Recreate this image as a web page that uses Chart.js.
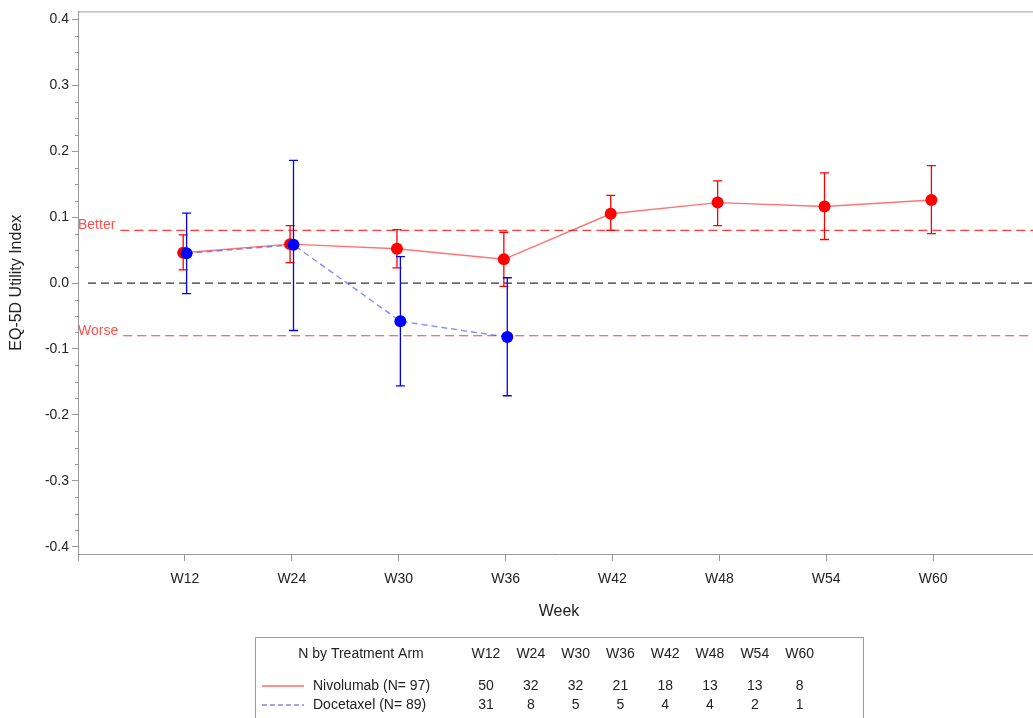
<!DOCTYPE html>
<html>
<head>
<meta charset="utf-8">
<script src="https://cdn.jsdelivr.net/npm/chart.js@4"></script>
<style>
    html, body { margin: 0; padding: 0; background: #fff; overflow: hidden; }
    #wrap { width: 1033px; height: 718px; overflow: hidden; }
    canvas { display: block; }
</style>
</head>
<body>
<div id="wrap"><canvas id="chart" width="1046" height="718"></canvas></div>
<script>
// Data
const weeks = ['W12', 'W24', 'W30', 'W36', 'W42', 'W48', 'W54', 'W60'];
const nivoMean = [0.046, 0.059, 0.052, 0.036, 0.105, 0.122, 0.116, 0.126];
const nivoUpper = [0.073, 0.087, 0.081, 0.077, 0.133, 0.155, 0.167, 0.178];
const nivoLower = [0.020, 0.031, 0.023, -0.005, 0.080, 0.087, 0.066, 0.075];
const doceMean = [0.045, 0.058, -0.058, -0.082];
const doceUpper = [0.106, 0.186, 0.040, 0.008];
const doceLower = [-0.016, -0.072, -0.156, -0.171];
const nivoN = [50, 32, 32, 21, 18, 13, 13, 8];
const doceN = [31, 8, 5, 5, 4, 4, 2, 1];
const armNames = ['Nivolumab (N= 97)', 'Docetaxel (N= 89)'];
const yTicks = [-0.4, -0.3, -0.2, -0.1, 0, 0.1, 0.2, 0.3, 0.4];
const refValues = [0.08, -0.08];
const refLabels = ['Better', 'Worse'];

const FONT = "'Liberation Sans', Arial, sans-serif";
const AXIS_GRAY = '#9a9a9a';
const TEXT = '#222';
const RED = '#ff0000';
const BLUE = '#0000ff';
const shift = 0.016; // small cluster offset between arms

function toPoints(values, dx) {
    return values.map((v, i) => ({ x: i + 1 + dx, y: v }));
}

// Reference lines (zero, Better, Worse)
const refLinesPlugin = {
    id: 'refLines',
    beforeDatasetsDraw(chart) {
        const { ctx, chartArea, scales: { y } } = chart;
        ctx.save();
        // zero line
        const y0 = y.getPixelForValue(0);
        ctx.strokeStyle = '#333';
        ctx.lineWidth = 1.2;
        ctx.setLineDash([8, 5]);
        ctx.beginPath();
        ctx.moveTo(chartArea.left + 10, y0);
        ctx.lineTo(chartArea.right, y0);
        ctx.stroke();

        ctx.font = '14px ' + FONT;
        ctx.textBaseline = 'middle';
        ctx.textAlign = 'left';
        refValues.forEach((v, i) => {
            const py = y.getPixelForValue(v);
            ctx.fillStyle = '#ff5050';
            ctx.fillText(refLabels[i], chartArea.left, py - 5);
            const w = ctx.measureText(refLabels[i]).width;
            ctx.strokeStyle = '#ff3b3b';
            ctx.setLineDash([9, 5]);
            ctx.beginPath();
            ctx.moveTo(chartArea.left + w + 5, py);
            ctx.lineTo(chartArea.right, py);
            ctx.stroke();
        });
        ctx.restore();
    }
};

// Error bars
const errorBarsPlugin = {
    id: 'errorBars',
    beforeDatasetsDraw(chart) {
        const { ctx, scales: { x, y } } = chart;
        const series = [
            { lo: nivoLower, hi: nivoUpper, dx: -shift, color: RED },
            { lo: doceLower, hi: doceUpper, dx: shift, color: BLUE }
        ];
        ctx.save();
        ctx.lineWidth = 1.3;
        series.forEach(s => {
            ctx.strokeStyle = s.color;
            s.lo.forEach((lo, i) => {
                const px = x.getPixelForValue(i + 1 + s.dx);
                const pLo = y.getPixelForValue(lo);
                const pHi = y.getPixelForValue(s.hi[i]);
                ctx.beginPath();
                ctx.moveTo(px, pLo);
                ctx.lineTo(px, pHi);
                ctx.moveTo(px - 4.5, pLo);
                ctx.lineTo(px + 4.5, pLo);
                ctx.moveTo(px - 4.5, pHi);
                ctx.lineTo(px + 4.5, pHi);
                ctx.stroke();
            });
        });
        ctx.restore();
    }
};

// Frame top line, minor ticks and the N table
const extrasPlugin = {
    id: 'extras',
    afterDraw(chart) {
        const { ctx, chartArea, scales: { y } } = chart;
        ctx.save();
        ctx.strokeStyle = AXIS_GRAY;
        ctx.lineWidth = 1;
        ctx.beginPath();
        ctx.moveTo(chartArea.left, chartArea.top + 0.5);
        ctx.lineTo(chartArea.right, chartArea.top + 0.5);
        // minor ticks
        for (let k = -16; k <= 16; k++) {
            if (k % 4 === 0) continue;
            const py = Math.round(y.getPixelForValue(k * 0.025)) + 0.5;
            ctx.moveTo(chartArea.left - 3, py);
            ctx.lineTo(chartArea.left, py);
        }
        ctx.stroke();

        // N by treatment arm table
        ctx.strokeRect(255.5, 637.5, 608, 120);
        ctx.fillStyle = TEXT;
        ctx.font = '14px ' + FONT;
        ctx.textBaseline = 'middle';
        ctx.textAlign = 'center';
        ctx.fillText('N by Treatment Arm', 361, 654);
        const colX = weeks.map((w, i) => 486 + i * 44.8);
        weeks.forEach((w, i) => ctx.fillText(w, colX[i], 654));
        nivoN.forEach((n, i) => ctx.fillText(String(n), colX[i], 686));
        doceN.forEach((n, i) => ctx.fillText(String(n), colX[i], 705));
        ctx.textAlign = 'left';
        ctx.fillText(armNames[0], 313, 686);
        ctx.fillText(armNames[1], 313, 705);

        ctx.lineWidth = 1.2;
        ctx.strokeStyle = '#ff2020';
        ctx.beginPath();
        ctx.moveTo(262, 686);
        ctx.lineTo(304, 686);
        ctx.stroke();
        ctx.strokeStyle = '#4040ff';
        ctx.setLineDash([5, 3]);
        ctx.beginPath();
        ctx.moveTo(262, 705);
        ctx.lineTo(304, 705);
        ctx.stroke();
        ctx.restore();
    }
};

const ctx = document.getElementById('chart');
new Chart(ctx, {
    type: 'line',
    data: {
        datasets: [
            {
                label: armNames[0],
                data: toPoints(nivoMean, -shift),
                borderColor: 'rgba(255, 0, 0, 0.55)',
                borderWidth: 1.4,
                pointRadius: 6,
                pointBorderWidth: 0,
                pointBackgroundColor: RED,
                tension: 0,
                order: 2
            },
            {
                label: armNames[1],
                data: toPoints(doceMean, shift),
                borderColor: 'rgba(70, 70, 255, 0.65)',
                borderWidth: 1.4,
                borderDash: [6, 4],
                pointRadius: 6,
                pointBorderWidth: 0,
                pointBackgroundColor: BLUE,
                tension: 0,
                order: 1
            }
        ]
    },
    options: {
        responsive: false,
        animation: false,
        devicePixelRatio: 1,
        layout: { padding: { top: 10, left: 0, right: 0, bottom: 0 } },
        plugins: {
            legend: { display: false },
            tooltip: { enabled: false }
        },
        scales: {
            x: {
                type: 'linear',
                min: 0,
                max: 9,
                afterBuildTicks: scale => {
                    scale.ticks = [0].concat(weeks.map((w, i) => i + 1)).map(v => ({ value: v }));
                },
                afterFit: scale => { scale.height = 164; },
                ticks: {
                    autoSkip: false,
                    maxRotation: 0,
                    padding: 10,
                    color: TEXT,
                    font: { family: FONT, size: 14 },
                    callback: v => (v >= 1 && v <= weeks.length ? weeks[v - 1] : '')
                },
                grid: { drawOnChartArea: false, drawTicks: true, tickLength: 7, color: AXIS_GRAY },
                border: { display: true, color: AXIS_GRAY },
                title: {
                    display: true,
                    text: 'Week',
                    color: TEXT,
                    font: { family: FONT, size: 16 },
                    padding: { top: 0, bottom: 97 }
                }
            },
            y: {
                min: -0.411,
                max: 0.412,
                afterBuildTicks: scale => {
                    scale.ticks = yTicks.map(v => ({ value: v }));
                },
                afterFit: scale => { scale.width = 78; },
                ticks: {
                    padding: 3,
                    color: TEXT,
                    font: { family: FONT, size: 14 },
                    callback: v => v.toFixed(1)
                },
                grid: { drawOnChartArea: false, drawTicks: true, tickLength: 6, color: AXIS_GRAY },
                border: { display: true, color: AXIS_GRAY },
                title: {
                    display: true,
                    text: 'EQ-5D Utility Index',
                    color: TEXT,
                    font: { family: FONT, size: 16 },
                    padding: { top: 7, bottom: 0 }
                }
            }
        }
    },
    plugins: [refLinesPlugin, errorBarsPlugin, extrasPlugin]
});
</script>
</body>
</html>
